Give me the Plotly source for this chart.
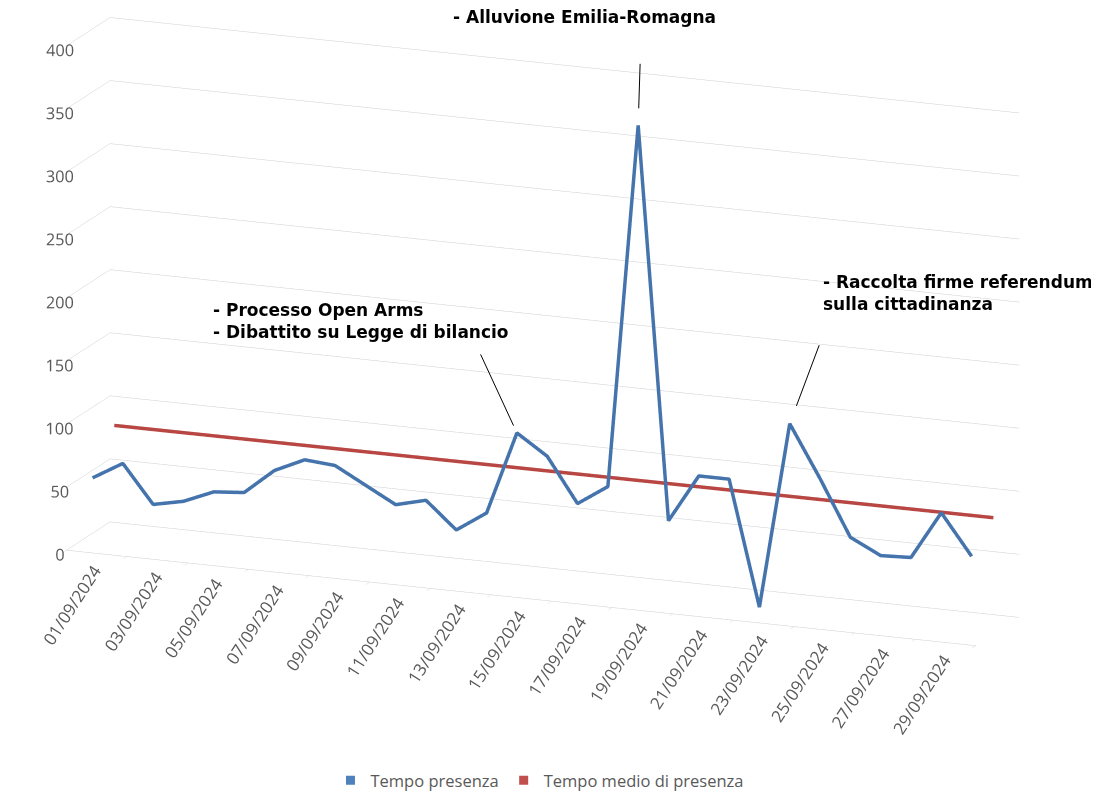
import plotly.graph_objects as go

# ---------------- data ----------------
dates = ["01/09/2024", "02/09/2024", "03/09/2024", "04/09/2024", "05/09/2024",
         "06/09/2024", "07/09/2024", "08/09/2024", "09/09/2024", "10/09/2024",
         "11/09/2024", "12/09/2024", "13/09/2024", "14/09/2024", "15/09/2024",
         "16/09/2024", "17/09/2024", "18/09/2024", "19/09/2024", "20/09/2024",
         "21/09/2024", "22/09/2024", "23/09/2024", "24/09/2024", "25/09/2024",
         "26/09/2024", "27/09/2024", "28/09/2024", "29/09/2024", "30/09/2024"]
days = [1, 2, 3, 4, 5, 6, 7, 8, 9, 10, 11, 12, 13, 14, 15,
        16, 17, 18, 19, 20, 21, 22, 23, 24, 25, 26, 27, 28, 29, 30]
tempo_presenza = [53, 67, 37, 42, 52, 54, 74, 85, 83, 70, 57, 63, 42, 58, 124,
                  108, 73, 89, 378, 67, 105, 105, 6, 154, 113, 69, 57, 58, 96, 64]
tempo_medio = [83.4, 83.4, 83.4, 83.4, 83.4, 83.4, 83.4, 83.4, 83.4, 83.4,
               83.4, 83.4, 83.4, 83.4, 83.4, 83.4, 83.4, 83.4, 83.4, 83.4,
               83.4, 83.4, 83.4, 83.4, 83.4, 83.4, 83.4, 83.4, 83.4, 83.4]
label_days = [1, 3, 5, 7, 9, 11, 13, 15, 17, 19, 21, 23, 25, 27, 29]
label_texts = ["01/09/2024", "03/09/2024", "05/09/2024", "07/09/2024", "09/09/2024",
               "11/09/2024", "13/09/2024", "15/09/2024", "17/09/2024", "19/09/2024",
               "21/09/2024", "23/09/2024", "25/09/2024", "27/09/2024", "29/09/2024"]
x_tick_marks = [0.5, 2.5, 4.5, 6.5, 8.5, 10.5, 12.5, 14.5, 16.5, 18.5,
                20.5, 22.5, 24.5, 26.5, 28.5, 30.5]
z_ticks = [0, 50, 100, 150, 200, 250, 300, 350, 400]

# event notes: (day, text, text left px, text middle px, line dx, line dy, standoff)
events = [
    (15, "<b>- Processo Open Arms<br>- Dibattito su Legge di bilancio</b>", 203, 313, -37, -80, 8),
    (19, "<b>- Alluvione Emilia-Romagna</b>", 443, 9, 2, -63, 17),
    (24, "<b>- Raccolta firme referendum<br>sulla cittadinanza</b>", 813, 285, 30, -80, 19),
]

W, H = 1099, 794
BLUE = "#4574AD"
RED = "#B84744"
GRID = "#cfcfcf"
TXT = "#595959"
ROW_BLUE = 0.5
ROW_RED = 1.5

fig = go.Figure()

fig.add_trace(go.Scatter3d(
    x=days, y=[ROW_RED] * len(days), z=tempo_medio, mode="lines",
    line=dict(color=RED, width=7), showlegend=False, hoverinfo="skip"))
fig.add_trace(go.Scatter3d(
    x=days, y=[ROW_BLUE] * len(days), z=tempo_presenza, mode="lines",
    line=dict(color=BLUE, width=7), showlegend=False, hoverinfo="skip"))

# legend entries
fig.add_trace(go.Scatter(x=[None], y=[None], mode="markers", name="Tempo presenza",
                         marker=dict(symbol="square", size=9, color="#4F81BD")))
fig.add_trace(go.Scatter(x=[None], y=[None], mode="markers", name="Tempo medio di presenza",
                         marker=dict(symbol="square", size=9, color="#C0504D")))

scene_ann = []
for d, t in zip(label_days, label_texts):
    scene_ann.append(dict(x=d, y=0, z=0, text=t, showarrow=False, textangle=-57,
                          xanchor="right", yanchor="top", xshift=28, yshift=-6,
                          font=dict(family="Open Sans", size=17, color=TXT)))
paper_ann = []
for d, txt, left, mid, ldx, ldy, so in events:
    val = tempo_presenza[days.index(d)]
    paper_ann.append(dict(xref="paper", yref="paper", x=left / W, y=1 - mid / H,
                          text=txt, showarrow=False, xanchor="left", yanchor="middle",
                          align="left",
                          font=dict(family="DejaVu Sans", size=17, color="black")))
    scene_ann.append(dict(x=d, y=ROW_BLUE, z=val, text="", showarrow=True,
                          ax=ldx, ay=ldy, arrowhead=0, arrowwidth=1,
                          arrowcolor="black", standoff=so))

axis_common = dict(showbackground=False, showspikes=False, title=dict(text=""),
                   zeroline=False)

fig.update_layout(
    width=W, height=H,
    margin=dict(l=0, r=0, t=0, b=0),
    paper_bgcolor="white", plot_bgcolor="white",
    xaxis=dict(visible=False), yaxis=dict(visible=False),
    showlegend=True,
    legend=dict(orientation="h", x=0.4836, xanchor="center", y=0.005, yanchor="bottom",
                font=dict(family="Open Sans", size=16.5, color=TXT)),
    annotations=paper_ann,
    scene=dict(
        domain=dict(x=[0, 1], y=[0.16, 1]),
        xaxis=dict(range=[0.5, 30.5], tickvals=x_tick_marks, showticklabels=False,
                   ticks="outside", ticklen=8, tickcolor=GRID, showgrid=False,
                   showline=True, linecolor=GRID, linewidth=1, **axis_common),
        yaxis=dict(range=[0, 2], showticklabels=False, showgrid=False, ticks="",
                   showline=False, **axis_common),
        zaxis=dict(range=[0, 400], tickvals=z_ticks, showgrid=True, gridcolor=GRID,
                   gridwidth=1, ticks="", showline=False, tickangle=0,
                   tickfont=dict(family="Open Sans", size=14, color=TXT), **axis_common),
        aspectmode="manual", aspectratio=dict(x=2.939, y=0.35, z=1.567),
        camera=dict(eye=dict(x=0.749, y=-1.746, z=0.483),
                    center=dict(x=0.047, y=0, z=-0.026),
                    up=dict(x=0, y=0, z=1), projection=dict(type="orthographic")),
        annotations=scene_ann,
    ),
)

fig.write_html("out.html")
